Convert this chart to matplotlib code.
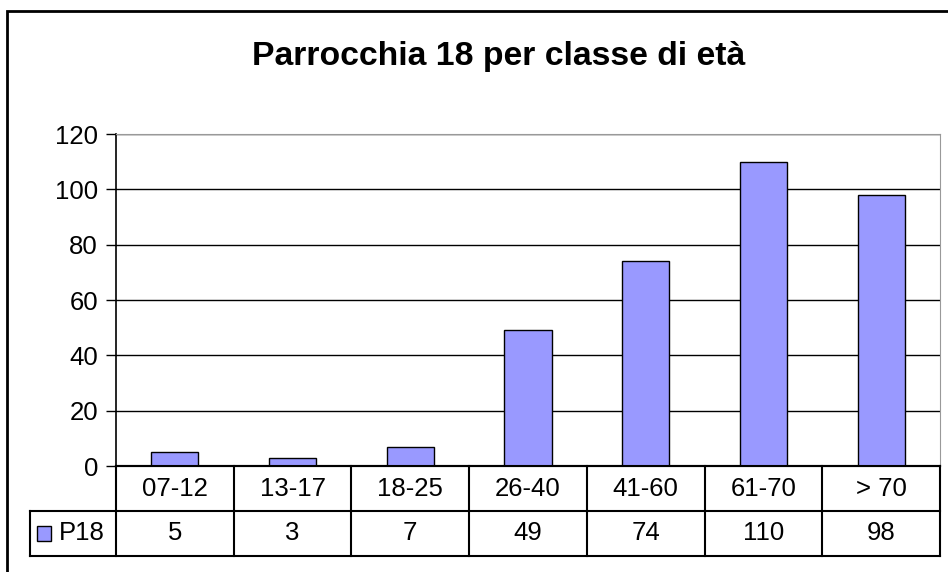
import matplotlib.pyplot as plt
from matplotlib.patches import Rectangle

plt.rcParams['font.family'] = ['Liberation Sans', 'DejaVu Sans']

categorie = ["07-12", "13-17", "18-25", "26-40", "41-60", "61-70", "> 70"]
valori = [5, 3, 7, 49, 74, 110, 98]
serie = "P18"
titolo = "Parrocchia 18 per classe di età"

W, H = 948, 572
fig = plt.figure(figsize=(W / 100, H / 100), dpi=100)

# bordo esterno
fig.add_artist(Rectangle((7 / W, -0.05), 1.1, (H - 11) / H + 0.05, transform=fig.transFigure,
                         fill=False, edgecolor="black", linewidth=2))

fig.text(499 / W, 1 - 57 / H, titolo, ha="center", va="center",
         fontsize=24.3, fontweight="bold")

# area del grafico
left, right, top, zero = 116, 940, 134, 466
ax = fig.add_axes([left / W, 1 - zero / H, (right - left) / W, (zero - top) / H])
x = list(range(len(categorie)))
ax.bar(x, valori, width=0.4, color="#9999FF", edgecolor="black", linewidth=1, zorder=3)
ax.set_xlim(-0.5, len(categorie) - 0.5)
ax.set_ylim(0, 120)
ax.set_yticks(range(0, 121, 20))
ax.yaxis.grid(True, color="black", linewidth=1)
ax.set_axisbelow(True)
ax.set_xticks([])
ax.tick_params(axis="y", direction="out", length=7, width=1, labelsize=18.5, pad=6)
ax.spines["left"].set_linewidth(1.2)
ax.spines["bottom"].set_linewidth(1.5)
ax.spines["top"].set_color("#999999")
ax.spines["right"].set_color("#999999")

# tabella dati
t_left, t_bottom, mid = 30, 556, 512
unit = (right - left) / len(categorie)
tax = fig.add_axes([t_left / W, 1 - t_bottom / H, (right - t_left) / W, (t_bottom - zero) / H])
tax.set_xlim(-0.5 - (left - t_left) / unit, len(categorie) - 0.5)
tax.set_ylim(0, 2)
tax.axis("off")
lw = 1.5
x0 = -0.5 - (left - t_left) / unit
xe = len(categorie) - 0.5
tax.plot([-0.5, xe], [2, 2], color="black", lw=lw, clip_on=False)
tax.plot([x0, xe], [1, 1], color="black", lw=lw, clip_on=False)
tax.plot([x0, xe], [0, 0], color="black", lw=lw, clip_on=False)
tax.plot([x0, x0], [0, 1], color="black", lw=lw, clip_on=False)
for i in range(len(categorie) + 1):
    tax.plot([i - 0.5, i - 0.5], [0, 2], color="black", lw=lw, clip_on=False)
for i, (c, v) in enumerate(zip(categorie, valori)):
    tax.text(i, 1.5, c, ha="center", va="center", fontsize=18.5)
    tax.text(i, 0.5, str(v), ha="center", va="center", fontsize=18.5)
# legenda nella tabella
ks = 14 / unit
tax.add_patch(Rectangle((x0 + 7 / unit, 0.5 - 0.16), ks, 0.32, facecolor="#9999FF",
                        edgecolor="black", linewidth=1, clip_on=False))
tax.text(x0 + 29 / unit, 0.5, serie, ha="left", va="center", fontsize=18.5)

fig.savefig("out.png", dpi=100)
